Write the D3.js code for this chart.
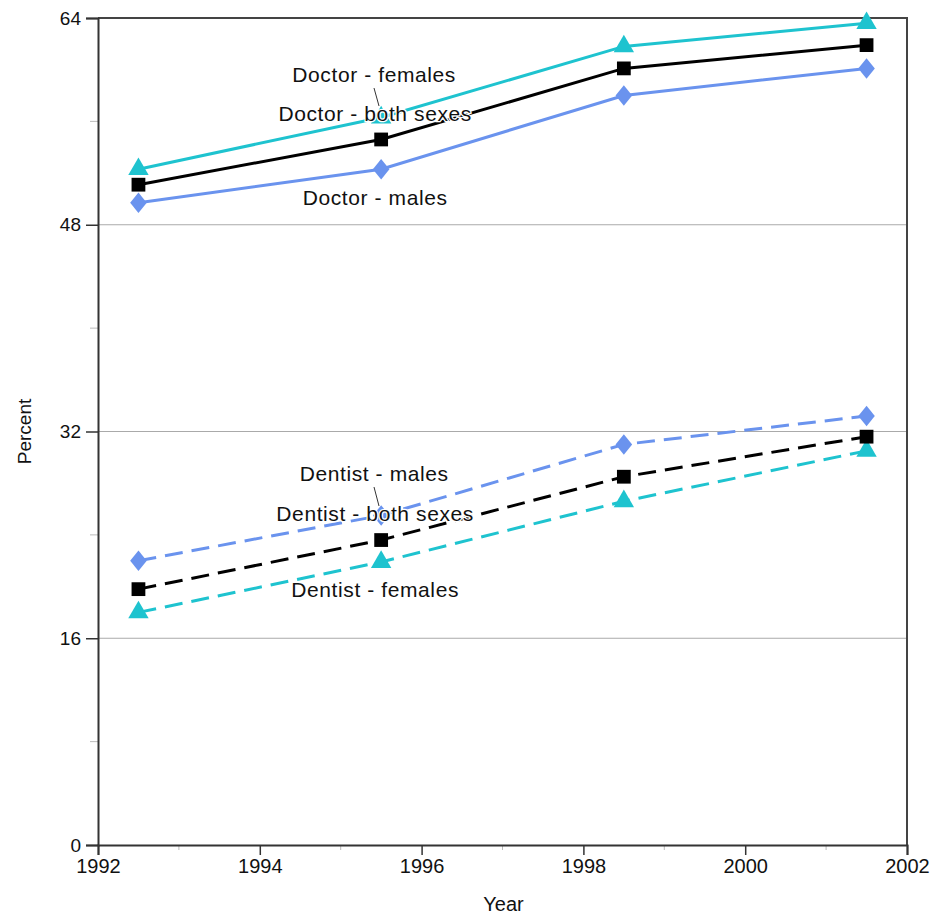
<!DOCTYPE html>
<html>
<head>
<meta charset="utf-8">
<script src="https://cdn.jsdelivr.net/npm/d3@7"></script>
<style>
  body { margin: 0; background: #fff; }
  svg { display: block; }
  text { font-family: "Liberation Sans", Arial, sans-serif; }
</style>
</head>
<body>
<svg id="chart" width="937" height="916"></svg>
<script>
// ---- data ----
const years = [1992.5, 1995.5, 1998.5, 2001.5];
const doctorFemales = [52.3, 56.3, 61.8, 63.6];
const doctorBoth    = [51.1, 54.6, 60.1, 61.9];
const doctorMales   = [49.7, 52.3, 58.0, 60.1];
const dentistMales   = [22.0, 25.5, 31.0, 33.2];
const dentistBoth    = [19.8, 23.6, 28.5, 31.6];
const dentistFemales = [18.0, 21.9, 26.6, 30.5];
const xTicks = [1992, 1994, 1996, 1998, 2000, 2002];
const xMinorTicks = [1993, 1995, 1997, 1999, 2001];
const yTicks = [0, 16, 32, 48, 64];
const yMinorTicks = [8, 24, 40, 56];
const seriesNames = ["Doctor - females", "Doctor - both sexes", "Doctor - males",
                     "Dentist - males", "Dentist - both sexes", "Dentist - females"];

const cyan = "#1ec3cf", blue = "#6a93ee", black = "#000";
const series = [
  { name: seriesNames[0], values: doctorFemales, color: cyan, marker: "triangle", dash: null },
  { name: seriesNames[2], values: doctorMales, color: blue, marker: "diamond", dash: null },
  { name: seriesNames[1], values: doctorBoth, color: black, marker: "square", dash: null },
  { name: seriesNames[3], values: dentistMales, color: blue, marker: "diamond", dash: "18,9" },
  { name: seriesNames[5], values: dentistFemales, color: cyan, marker: "triangle", dash: "18,9" },
  { name: seriesNames[4], values: dentistBoth, color: black, marker: "square", dash: "18,9" }
];

const svg = d3.select("#chart");
const L = 98, R = 907, T = 18, B = 845;
const x = d3.scaleLinear().domain([1992, 2002]).range([L, R]);
const y = d3.scaleLinear().domain([0, 64]).range([B, T]);

// gridlines
svg.append("g").selectAll("line").data(yTicks.filter(t => t > 0 && t < 64)).join("line")
  .attr("x1", L).attr("x2", R).attr("y1", d => y(d)).attr("y2", d => y(d))
  .attr("stroke", "#aaa").attr("stroke-width", 1.2);

// frame (top & right)
svg.append("path")
  .attr("d", `M${L},${y(64)}H${R}V${B}`)
  .attr("fill", "none").attr("stroke", "#444").attr("stroke-width", 2);

// minor ticks
svg.append("g").selectAll("line").data(yMinorTicks).join("line")
  .attr("x1", L - 8).attr("x2", L).attr("y1", d => y(d)).attr("y2", d => y(d))
  .attr("stroke", "#bbb").attr("stroke-width", 1);
svg.append("g").selectAll("line").data(xMinorTicks).join("line")
  .attr("x1", d => x(d)).attr("x2", d => x(d)).attr("y1", B).attr("y2", B + 5)
  .attr("stroke", "#bbb").attr("stroke-width", 1);

// axes
const yAxis = svg.append("g").attr("transform", `translate(${L},0)`)
  .call(d3.axisLeft(y).tickValues(yTicks).tickSize(12).tickPadding(5).tickFormat(d3.format("d")));
const xAxis = svg.append("g").attr("transform", `translate(0,${B})`)
  .call(d3.axisBottom(x).tickValues(xTicks).tickSize(10).tickPadding(4).tickFormat(d3.format("d")));
[yAxis, xAxis].forEach(g => {
  g.select(".domain").attr("stroke", "#333").attr("stroke-width", 2);
  g.selectAll(".tick line").attr("stroke", "#333").attr("stroke-width", 1.5);
  g.selectAll(".tick text").attr("fill", "#111").style("font-family", "'Liberation Sans', Arial, sans-serif");
});
yAxis.selectAll(".tick text").style("font-size", "19px");
xAxis.selectAll(".tick text").style("font-size", "20px");

// axis titles
svg.append("text").attr("x", (L + R) / 2 + 1).attr("y", 911).attr("text-anchor", "middle")
  .style("font-size", "20px").attr("fill", "#111").text("Year");
svg.append("text").attr("transform", `translate(31,${y(32)}) rotate(-90)`).attr("text-anchor", "middle")
  .style("font-size", "19px").attr("fill", "#111").text("Percent");

// lines
const line = d3.line().x((d, i) => x(years[i])).y(d => y(d));
const gLines = svg.append("g");
series.forEach(s => {
  gLines.append("path").datum(s.values)
    .attr("d", line).attr("fill", "none").attr("stroke", s.color).attr("stroke-width", 3)
    .attr("stroke-dasharray", s.dash);
});

// markers
const sym = { triangle: d3.symbolTriangle, square: d3.symbolSquare, diamond: d3.symbolSquare };
const size = { triangle: 180, square: 190, diamond: 190 };
series.forEach(s => {
  svg.append("g").selectAll("path").data(s.values).join("path")
    .attr("transform", (d, i) => s.marker === "diamond"
      ? `translate(${x(years[i])},${y(d)}) scale(0.85,1.05) rotate(45)`
      : `translate(${x(years[i])},${y(d)})`)
    .attr("d", d3.symbol().type(sym[s.marker]).size(size[s.marker]))
    .attr("fill", s.color);
});

// labels
function label(txt, lx, ly) {
  svg.append("text").attr("x", lx).attr("y", ly).attr("text-anchor", "middle")
    .style("font-size", "21px").style("letter-spacing", "0.6px").attr("fill", "#111")
    .attr("stroke", "#fff").attr("stroke-width", 2.5).attr("paint-order", "stroke")
    .text(txt);
}
const midX = x(1995.5) - 6;
label(seriesNames[0], midX - 1, 82);
label(seriesNames[1], midX, 121);
label(seriesNames[2], midX, 205);
label(seriesNames[3], midX - 1, 481);
label(seriesNames[4], midX, 521);
label(seriesNames[5], midX, 597);
// leader lines
svg.append("line").attr("x1", 374).attr("y1", 88).attr("x2", 379).attr("y2", 106).attr("stroke", "#333").attr("stroke-width", 1);
svg.append("line").attr("x1", 374).attr("y1", 487).attr("x2", 379).attr("y2", 506).attr("stroke", "#333").attr("stroke-width", 1);
</script>
</body>
</html>
